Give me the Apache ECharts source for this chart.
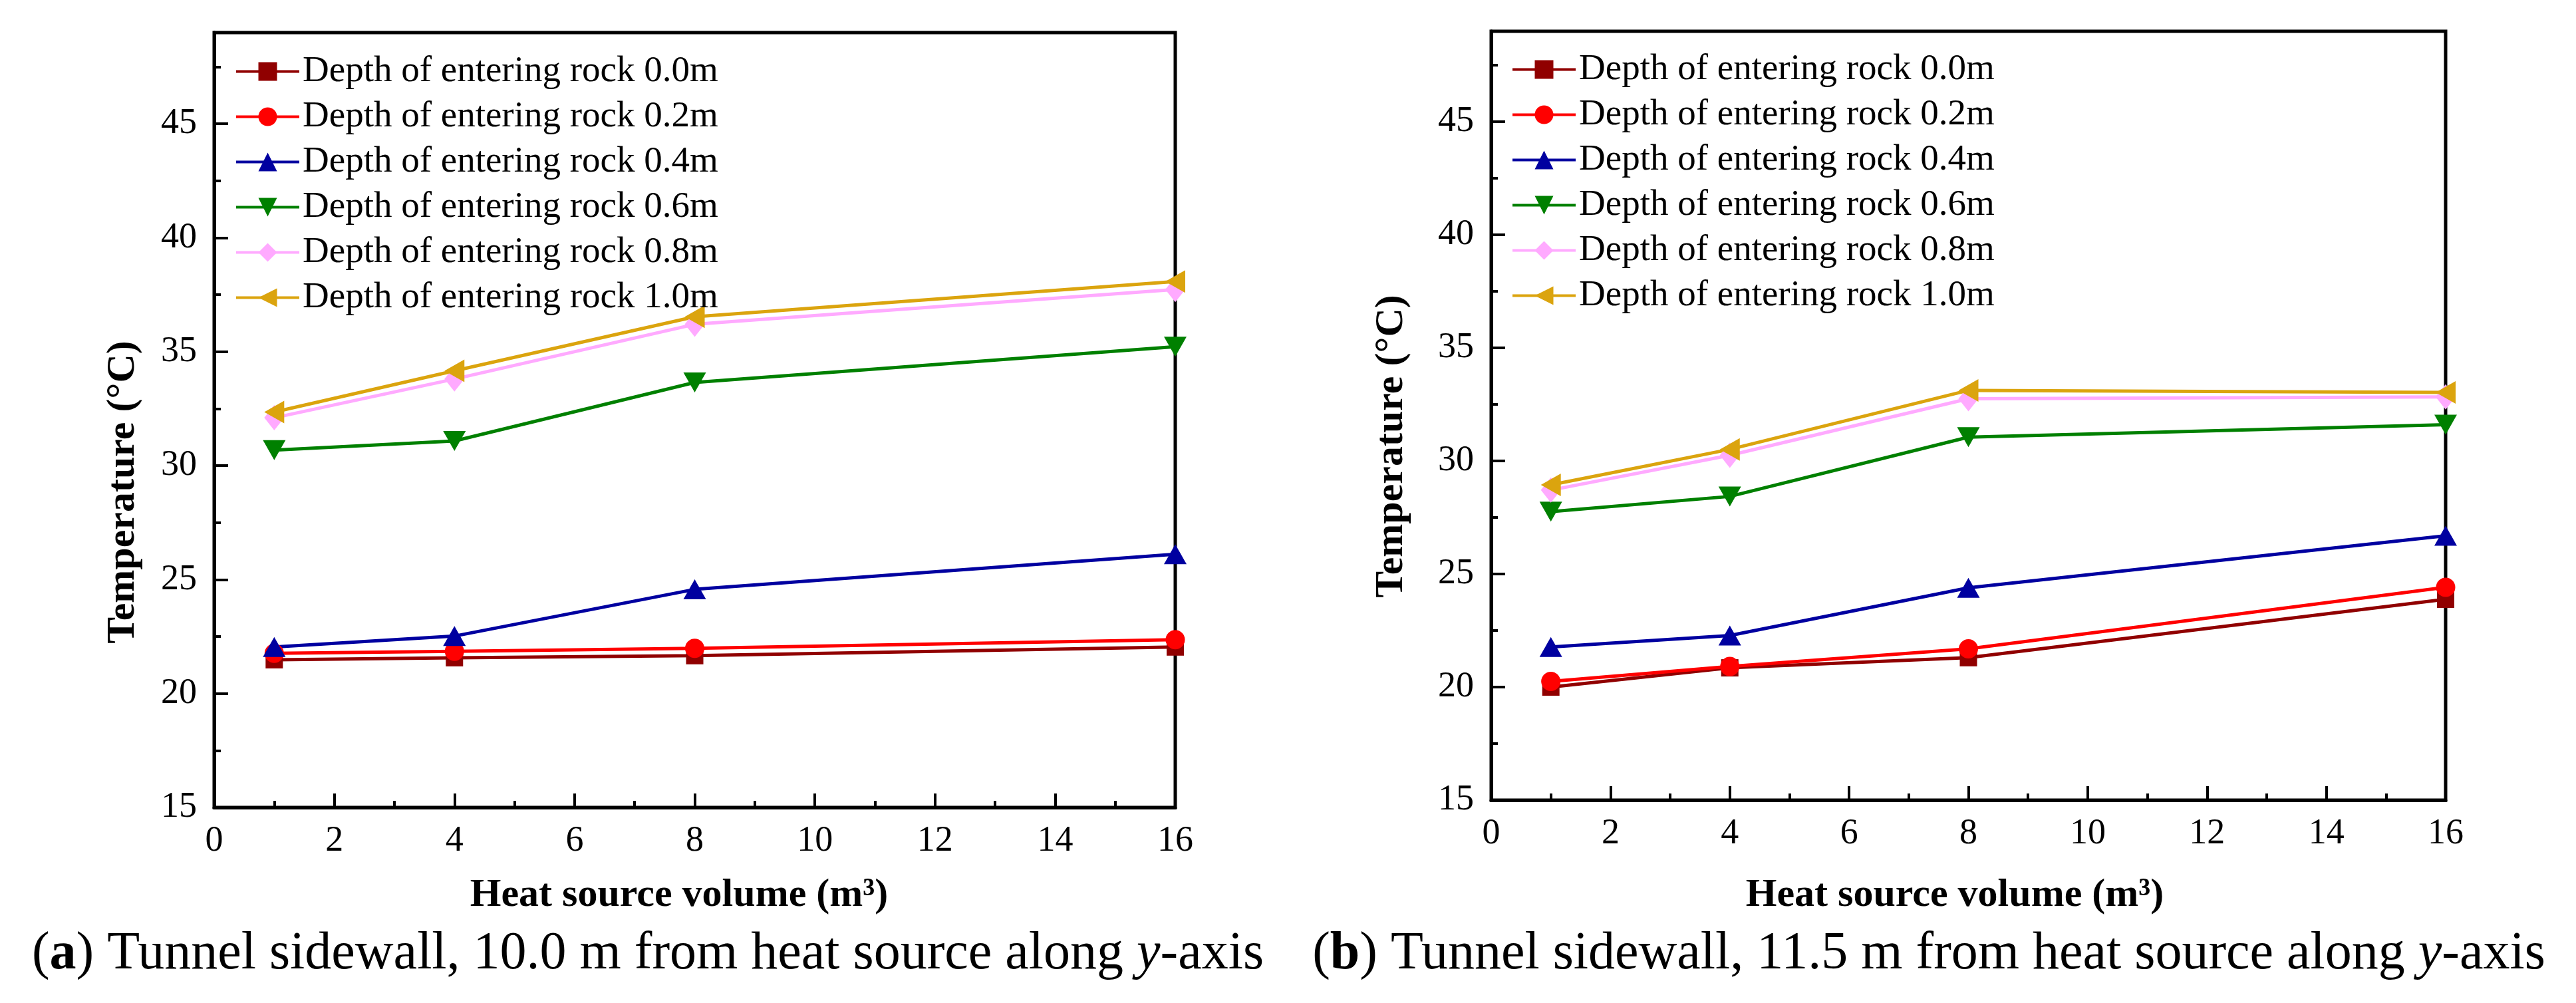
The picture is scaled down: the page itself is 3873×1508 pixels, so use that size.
<!DOCTYPE html>
<html>
<head>
<meta charset="utf-8">
<script src="https://cdn.jsdelivr.net/npm/echarts@6/dist/echarts.min.js"></script>
<style>
  html, body { margin: 0; padding: 0; background: #fff; }
  #chart { width: 3873px; height: 1508px; }
</style>
</head>
<body>
<div id="chart"></div>
<script>
// x positions (heat source volume, m3)
var volumes = [1, 4, 8, 16];
var depthNames = [
    'Depth of entering rock 0.0m',
    'Depth of entering rock 0.2m',
    'Depth of entering rock 0.4m',
    'Depth of entering rock 0.6m',
    'Depth of entering rock 0.8m',
    'Depth of entering rock 1.0m'
];
var xTicks = [0, 2, 4, 6, 8, 10, 12, 14, 16];
var yTicks = [15, 20, 25, 30, 35, 40, 45];

// (a) 10.0 m from heat source
var tempA_00 = [21.48, 21.57, 21.66, 22.04];
var tempA_02 = [21.76, 21.85, 21.98, 22.36];
var tempA_04 = [22.04, 22.52, 24.57, 26.11];
var tempA_06 = [30.68, 31.08, 33.65, 35.22];
var tempA_08 = [32.10, 33.80, 36.20, 37.73];
var tempA_10 = [32.35, 34.16, 36.53, 38.08];

// (b) 11.5 m from heat source
var tempB_00 = [20.00, 20.85, 21.30, 23.88];
var tempB_02 = [20.25, 20.91, 21.69, 24.41];
var tempB_04 = [21.77, 22.28, 24.39, 26.69];
var tempB_06 = [27.76, 28.43, 31.05, 31.60];
var tempB_08 = [28.71, 30.25, 32.75, 32.83];
var tempB_10 = [28.94, 30.51, 33.12, 33.03];

var FONT = 'Liberation Serif';

var styles = [
    {color: '#900000', symbol: 'rect', size: 26, rotate: 0},
    {color: '#ff0000', symbol: 'circle', size: 29, rotate: 0},
    {color: '#0000a0', symbol: 'triangle', size: [34, 30], rotate: 0},
    {color: '#008000', symbol: 'triangle', size: [34, 30], rotate: 180},
    {color: '#ffaaff', symbol: 'diamond', size: [30, 38], rotate: 0},
    {color: '#dba40e', symbol: 'triangle', size: [34, 30], rotate: 90}
];

function pairs(vals) {
    return volumes.map(function (v, i) { return [v, vals[i]]; });
}

function makeSeries(list, idx) {
    return list.map(function (vals, i) {
        var s = styles[i];
        return {
            name: depthNames[i],
            type: 'line',
            xAxisIndex: idx,
            yAxisIndex: idx * 2,
            data: pairs(vals),
            symbol: s.symbol,
            symbolSize: s.size,
            symbolRotate: s.rotate,
            color: s.color,
            lineStyle: {color: s.color, width: 5},
            itemStyle: {color: s.color},
            animation: false,
            clip: false
        };
    });
}

function xAxis(idx) {
    return {
        gridIndex: idx, type: 'value', min: 0, max: 16, interval: 2,
        axisLine: {show: true, onZero: false, lineStyle: {color: '#000', width: 5}},
        axisTick: {show: true, inside: true, length: 21, lineStyle: {color: '#000', width: 4}},
        minorTick: {show: true, splitNumber: 2, length: 10, lineStyle: {color: '#000', width: 4}},
        axisLabel: {fontFamily: FONT, fontSize: 54, color: '#000', margin: 24},
        splitLine: {show: false}
    };
}

function yAxisMain(idx) {
    return {
        gridIndex: idx, type: 'value', min: 15, max: 49, interval: 5, position: 'left',
        axisLine: {show: true, onZero: false, lineStyle: {color: '#000', width: 5}},
        axisTick: {show: true, inside: true, length: 21, lineStyle: {color: '#000', width: 4}},
        axisLabel: {
            fontFamily: FONT, fontSize: 54, color: '#000', margin: 26,
            formatter: function (v) { return yTicks.indexOf(v) >= 0 ? String(v) : ''; }
        },
        splitLine: {show: false}
    };
}

function yAxisMinor(idx) {
    return {
        gridIndex: idx, type: 'value', min: 15, max: 49, interval: 2.5, position: 'left',
        axisLine: {show: false},
        axisTick: {show: true, inside: true, length: 10, lineStyle: {color: '#000', width: 4}},
        axisLabel: {show: false},
        splitLine: {show: false}
    };
}

function legend(idx, left, top) {
    return {
        orient: 'vertical', left: left, top: top, padding: 0,
        itemWidth: 95, itemHeight: 35, itemGap: 13,
        data: depthNames,
        lineStyle: {width: 4},
        textStyle: {fontFamily: FONT, fontSize: 55, color: '#000'},
        selectedMode: false
    };
}

function titleText(txt, x, y, rot) {
    return {
        type: 'text', x: x, y: y, rotation: rot || 0,
        style: {
            text: txt, fontFamily: FONT, fontSize: 60, fontWeight: 'bold', fill: '#000',
            align: 'center', verticalAlign: 'middle'
        }
    };
}

function caption(letter, rest, x, y) {
    return {
        type: 'text', x: x, y: y,
        style: {
            text: '({b|' + letter + '}) ' + rest + ' {i|y}-axis',
            fontFamily: FONT, fontSize: 80, fill: '#000',
            align: 'center', verticalAlign: 'middle',
            rich: {
                b: {fontFamily: FONT, fontSize: 80, fontWeight: 'bold', fill: '#000'},
                i: {fontFamily: FONT, fontSize: 80, fontStyle: 'italic', fill: '#000'}
            }
        }
    };
}

var chart = echarts.init(document.getElementById('chart'));
var option = {
    backgroundColor: '#fff',
    animation: false,
    textStyle: {fontFamily: FONT},
    grid: [
        {left: 322, top: 49, width: 1445, height: 1165, show: true, borderColor: '#000', borderWidth: 5},
        {left: 2242, top: 47, width: 1435, height: 1156, show: true, borderColor: '#000', borderWidth: 5}
    ],
    xAxis: [xAxis(0), xAxis(1)],
    yAxis: [yAxisMain(0), yAxisMinor(0), yAxisMain(1), yAxisMinor(1)],
    legend: [legend(0, 353, 80), legend(1, 2272, 77)],
    series: makeSeries([tempA_00, tempA_02, tempA_04, tempA_06, tempA_08, tempA_10], 0)
        .concat(makeSeries([tempB_00, tempB_02, tempB_04, tempB_06, tempB_08, tempB_10], 1)),
    graphic: [
        titleText('Temperature (\u00B0C)', 185, 740, Math.PI / 2),
        titleText('Temperature (\u00B0C)', 2092, 671, Math.PI / 2),
        titleText('Heat source volume (m\u00B3)', 1021, 1346),
        titleText('Heat source volume (m\u00B3)', 2939, 1346),
        caption('a', 'Tunnel sidewall, 10.0 m from heat source along', 974, 1435),
        caption('b', 'Tunnel sidewall, 11.5 m from heat source along', 2900, 1435)
    ]
};
chart.setOption(option);
</script>
</body>
</html>
